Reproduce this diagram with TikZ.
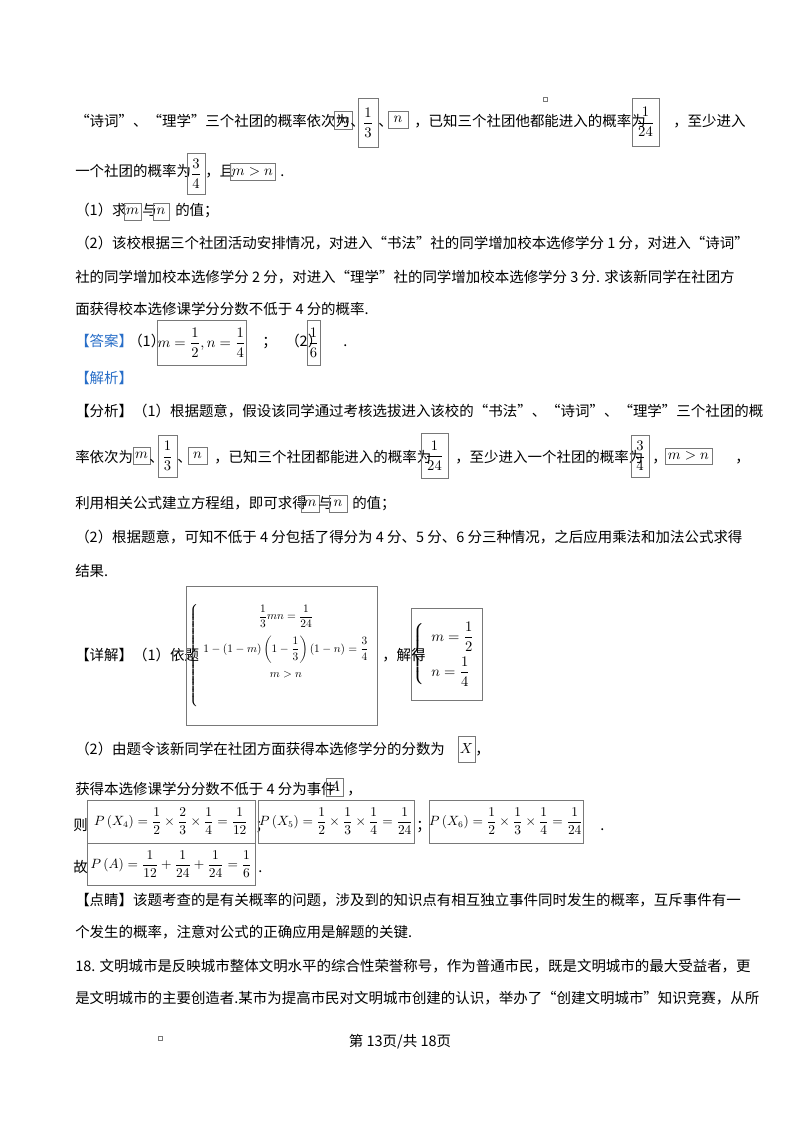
\documentclass[tikz,border=0pt]{standalone}
\usepackage{amsmath}
\usepackage{graphicx}
\usepackage{fontspec}
\setmainfont{Noto Sans CJK SC}
\definecolor{ansblue}{RGB}{40,110,200}
\definecolor{boxgray}{RGB}{120,120,120}
\newcommand{\bx}[6]{\node[mb,minimum width={(#4-#2)*0.75pt},minimum height={(#5-#3)*0.75pt}] (#1) at ({(#2+#4)/2},{(#3+#5)/2}) {#6};}
\tikzset{
  tx/.style={anchor=base west,inner sep=0pt,font=\fontsize{10.85pt}{12pt}\selectfont},
  mb/.style={draw=boxgray,line width=0.6pt,inner sep=0pt,font=\fontsize{10.5pt}{12pt}\selectfont},
  sq/.style={draw=boxgray,line width=0.4pt,minimum size=3pt,inner sep=0pt}
}
\begin{document}
\begin{tikzpicture}[x=0.75pt,y=-0.75pt]
\useasboundingbox (0,0) rectangle (800,1132);
\fill[white] (0,0) rectangle (800,1132);
\node[sq] (s1) at (545,99) {};
\node[sq] (s2) at (160,1038) {};
% line 1
\node[tx] (l1a) at (75,126) {“诗词”、“理学”三个社团的概率依次为};
\bx{b1}{334}{111}{352}{129}{$m$}
\node[tx] (l1b) at (350,126) {、};
\bx{b2}{358}{98}{378}{147}{$\dfrac{1}{3}$}
\node[tx] (l1c) at (378,126) {、};
\bx{b3}{388}{111}{408}{128}{$n$}
\node[tx] (l1d) at (414,126) {，已知三个社团他都能进入的概率为};
\bx{b4}{632}{98}{659}{146}{$\dfrac{1}{24}$}
\node[tx] (l1e) at (673,126) {，至少进入};
% line 2
\node[tx] (l2a) at (75,176) {一个社团的概率为};
\bx{b5}{187}{153}{205}{194}{$\dfrac{3}{4}$}
\node[tx] (l2b) at (205,176) {，且};
\bx{b6}{230}{163}{275}{180}{$m>n$}
\node[tx] (l2c) at (280,176) {.};
% line 3
\node[tx] (l3a) at (75,215) {（1）求};
\bx{b7}{124}{203}{141}{220}{$m$}
\node[tx] (l3b) at (142,215) {与};
\bx{b8}{153}{203}{169}{220}{$n$}
\node[tx] (l3c) at (175,215) {的值；};
\node[tx] (l4) at (75,248) {（2）该校根据三个社团活动安排情况，对进入“书法”社的同学增加校本选修学分 1 分，对进入“诗词”};
\node[tx] (l5) at (75,282) {社的同学增加校本选修学分 2 分，对进入“理学”社的同学增加校本选修学分 3 分. 求该新同学在社团方};
\node[tx] (l6) at (75,314) {面获得校本选修课学分分数不低于 4 分的概率.};
% answer
\node[tx,text=ansblue] (l7a) at (75,346) {【答案】};
\node[tx] (l7b) at (128,346) {（1）};
\bx{b9}{157}{320}{246}{365}{$m=\dfrac{1}{2},n=\dfrac{1}{4}$}
\node[tx] (l7c) at (262,346) {；};
\node[tx] (l7d) at (285,346) {（2）};
\bx{b10}{307}{320}{320}{365}{$\dfrac{1}{6}$}
\node[tx] (l7e) at (343,346) {.};
\node[tx,text=ansblue] (l8) at (75,383) {【解析】};
\node[tx] (l9) at (75,416) {【分析】（1）根据题意，假设该同学通过考核选拔进入该校的“书法”、“诗词”、“理学”三个社团的概};
\node[tx] (l10a) at (75,462) {率依次为};
\bx{b11}{133}{447}{150}{464}{$m$}
\node[tx] (l10b) at (149,462) {、};
\bx{b12}{158}{435}{177}{477}{$\dfrac{1}{3}$}
\node[tx] (l10c) at (177,462) {、};
\bx{b13}{188}{447}{207}{464}{$n$}
\node[tx] (l10d) at (214,462) {，已知三个社团都能进入的概率为};
\bx{b14}{421}{433}{448}{478}{$\dfrac{1}{24}$}
\node[tx] (l10e) at (455,462) {，至少进入一个社团的概率为};
\bx{b15}{631}{435}{649}{477}{$\dfrac{3}{4}$}
\node[tx] (l10f) at (652,462) {，};
\bx{b16}{665}{448}{712}{464}{$m>n$}
\node[tx] (l10g) at (735,462) {，};
\node[tx] (l11a) at (75,508) {利用相关公式建立方程组，即可求得};
\bx{b17}{301}{495}{319}{512}{$m$}
\node[tx] (l11b) at (318,508) {与};
\bx{b18}{329}{495}{347}{512}{$n$}
\node[tx] (l11c) at (352,508) {的值；};
\node[tx] (l12) at (75,542) {（2）根据题意，可知不低于 4 分包括了得分为 4 分、5 分、6 分三种情况，之后应用乘法和加法公式求得};
\node[tx] (l13) at (75,576) {结果.};
% detail
\node[tx] (l14a) at (75,660) {【详解】（1）依题};
\bx{b19}{186}{586}{377}{725}{\scalebox{0.78}{$\left\{\begin{array}{c}\dfrac{1}{3}mn=\dfrac{1}{24}\\[12pt]1-(1-m)\left(1-\dfrac{1}{3}\right)(1-n)=\dfrac{3}{4}\\[12pt]m>n\\[24pt]\end{array}\right.$}}
\node[tx] (l14b) at (382,660) {，解得};
\bx{b20}{421}{608}{473}{700}{$\left\{\begin{array}{l}m=\dfrac{1}{2}\\[8pt]n=\dfrac{1}{4}\end{array}\right.$}
\node[tx] (l15a) at (75,754) {（2）由题令该新同学在社团方面获得本选修学分的分数为};
\bx{b21}{458}{736}{475}{762}{$X$}
\node[tx] (l15b) at (475,754) {，};
\node[tx] (l16a) at (75,794) {获得本选修课学分分数不低于 4 分为事件};
\bx{b22}{326}{778}{343}{796}{$A$}
\node[tx] (l16b) at (347,794) {，};
\node[tx] (l17a) at (73,830) {则};
\bx{b23}{87}{800}{255}{843}{\scalebox{0.92}{$P\left(X_4\right)=\dfrac{1}{2}\times\dfrac{2}{3}\times\dfrac{1}{4}=\dfrac{1}{12}$}}
\node[tx] (l17b) at (255,830) {；};
\bx{b24}{258}{800}{414}{843}{\scalebox{0.92}{$P\left(X_5\right)=\dfrac{1}{2}\times\dfrac{1}{3}\times\dfrac{1}{4}=\dfrac{1}{24}$}}
\node[tx] (l17c) at (416,830) {；};
\bx{b25}{429}{800}{583}{843}{\scalebox{0.92}{$P\left(X_6\right)=\dfrac{1}{2}\times\dfrac{1}{3}\times\dfrac{1}{4}=\dfrac{1}{24}$}}
\node[tx] (l17d) at (600,830) {.};
\node[tx] (l18a) at (73,872) {故};
\bx{b26}{87}{843}{255}{885}{\scalebox{0.92}{$P\left(A\right)=\dfrac{1}{12}+\dfrac{1}{24}+\dfrac{1}{24}=\dfrac{1}{6}$}}
\node[tx] (l18b) at (258,872) {.};
\node[tx] (l19) at (75,905) {【点睛】该题考查的是有关概率的问题，涉及到的知识点有相互独立事件同时发生的概率，互斥事件有一};
\node[tx] (l20) at (75,937) {个发生的概率，注意对公式的正确应用是解题的关键.};
\node[tx] (l21) at (75,971) {18. 文明城市是反映城市整体文明水平的综合性荣誉称号，作为普通市民，既是文明城市的最大受益者，更};
\node[tx] (l22) at (75,1003) {是文明城市的主要创造者.某市为提高市民对文明城市创建的认识，举办了“创建文明城市”知识竞赛，从所};
\node[tx,anchor=base] (foot) at (400,1046) {第 13页/共 18页};
\end{tikzpicture}
\end{document}
